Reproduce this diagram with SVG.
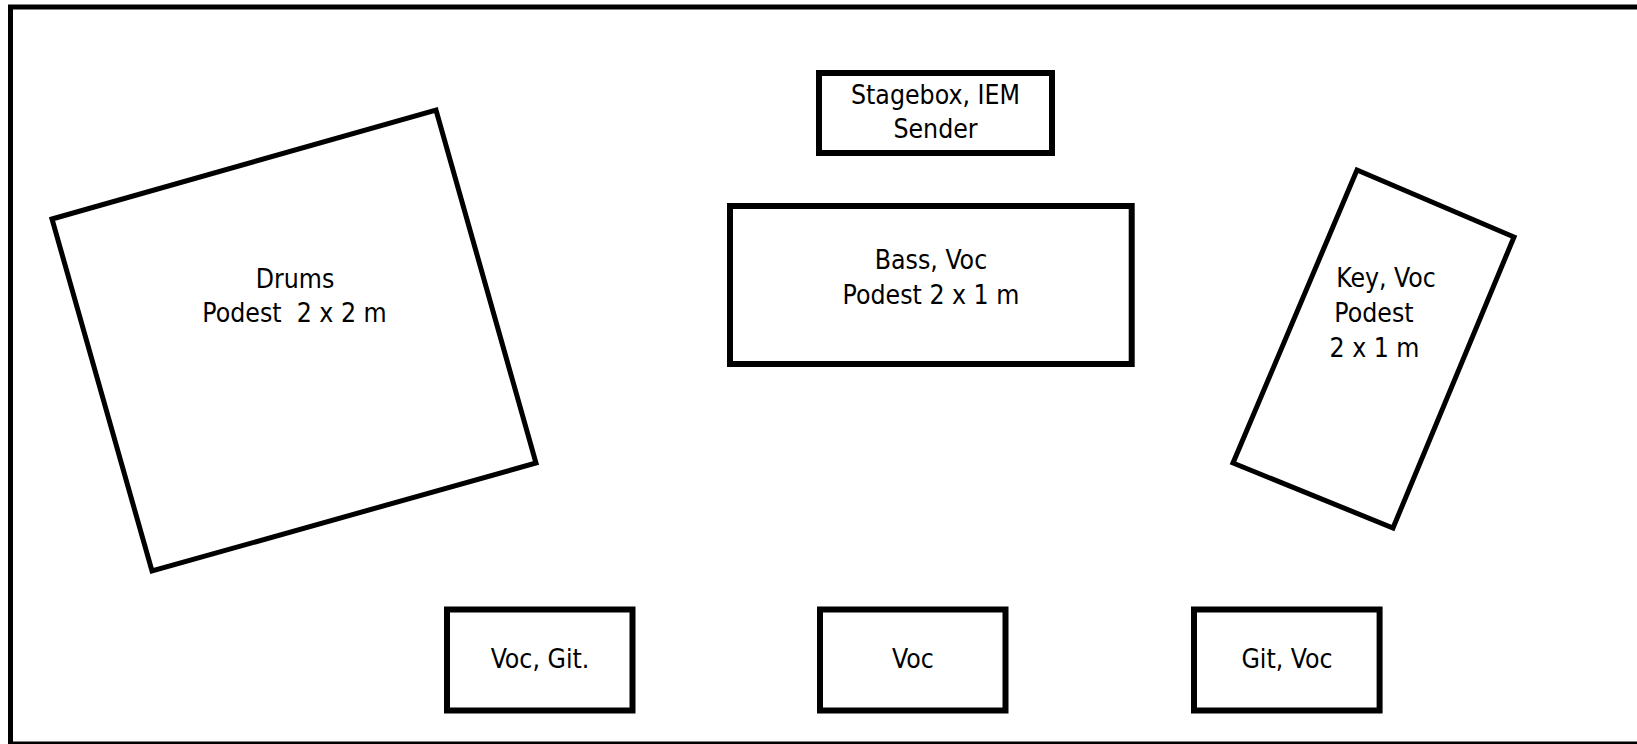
<svg xmlns="http://www.w3.org/2000/svg" width="1637" height="744" viewBox="0 0 1637 744">
<style>
.b{fill:#fff;stroke:#000;stroke-width:6}
.r{fill:#fff;stroke:#000;stroke-width:5;stroke-linejoin:miter}
.t{font-family:"DejaVu Sans Condensed","DejaVu Sans","Liberation Sans",sans-serif;font-stretch:condensed;font-size:26.4px;fill:#000;text-anchor:middle}
</style>
<rect x="0" y="0" width="1637" height="744" fill="#fff"/>
<rect id="stage" x="10.5" y="7" width="1640" height="737" fill="none" stroke="#000" stroke-width="5"/>
<g id="drums">
<polygon class="r" points="52,219 436,110 536,463 152,571"/>
<text class="t" x="295" y="288">Drums</text>
<text class="t" x="294.5" y="322" xml:space="preserve">Podest  2 x 2 m</text>
</g>
<g id="stagebox">
<rect class="b" x="819" y="73" width="233" height="80"/>
<text class="t" x="935.5" y="103.5">Stagebox, IEM</text>
<text class="t" x="935.5" y="137.5">Sender</text>
</g>
<g id="bass">
<rect class="b" x="730" y="206" width="401.7" height="158"/>
<text class="t" x="931" y="268.5">Bass, Voc</text>
<text class="t" x="931" y="303.5">Podest 2 x 1 m</text>
</g>
<g id="keys">
<polygon class="r" points="1357,170 1514,237 1393,528 1233,463"/>
<text class="t" x="1386" y="287">Key, Voc</text>
<text class="t" x="1374" y="322">Podest</text>
<text class="t" x="1374.5" y="357">2 x 1 m</text>
</g>
<g id="voc-git">
<rect class="b" x="447" y="609.5" width="185.5" height="101"/>
<text class="t" x="540" y="668">Voc, Git.</text>
</g>
<g id="voc">
<rect class="b" x="820" y="609.5" width="185.5" height="101"/>
<text class="t" x="913" y="668">Voc</text>
</g>
<g id="git-voc">
<rect class="b" x="1194" y="609.5" width="185.6" height="101"/>
<text class="t" x="1287" y="668">Git, Voc</text>
</g>
<g id="connectors"/>
</svg>
